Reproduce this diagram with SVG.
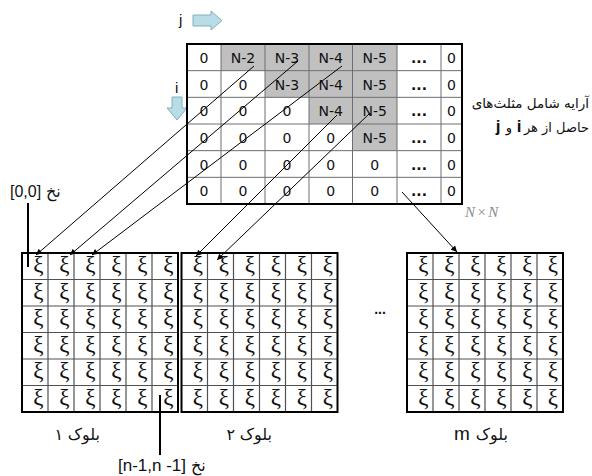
<svg xmlns="http://www.w3.org/2000/svg" width="592" height="476" viewBox="0 0 592 476">
<defs>
<style>
.bg{fill:#ffffff}
.gray{fill:#c0c0c0}
.grid{stroke:#6e6e6e;stroke-width:1;fill:none}
.bgrid{stroke:#505050;stroke-width:1.2;fill:none}
.border{stroke:#000;stroke-width:2;fill:none}
.cell{font-family:"DejaVu Sans",sans-serif;font-size:14px;fill:#111;text-anchor:middle}
.dots{font-weight:bold}
.xi{font-family:"Liberation Serif",serif;font-size:23px;fill:#111}
.fa{font-family:"DejaVu Sans",sans-serif;font-size:16px;fill:#111}
.fs{font-family:"DejaVu Sans",sans-serif;font-size:13.5px;fill:#111}
.fs2{font-family:"DejaVu Sans",sans-serif;font-size:13px;fill:#111}
.lat{font-family:"Liberation Sans",sans-serif;fill:#111}
.ij{font-family:"Liberation Sans",sans-serif;font-size:17px;font-weight:bold;fill:#111}
.conn{stroke:#000;stroke-width:1;fill:none}
.lbl{stroke:#000;stroke-width:2;fill:none}
.barrow{fill:#b8dde6;stroke:#86aebb;stroke-width:1}
</style>
<marker id="ah" viewBox="0 0 10 10" refX="10" refY="5" markerWidth="7" markerHeight="6" markerUnits="userSpaceOnUse" orient="auto">
<path d="M0,0 L10,5 L0,10 z" fill="#000"/>
</marker>
</defs>
<rect width="592" height="476" fill="#fff"/>

<g id="dir-j">
<text class="lat" x="179" y="25" font-size="15">j</text>
<polygon class="barrow" points="193,15 211,15 211,11 222,20.5 211,30 211,26 193,26"/>
</g>
<g id="dir-i">
<text class="lat" x="175" y="93" font-size="15">i</text>
<polygon class="barrow" points="172,97 182,97 182,108 187,108 177,120 167,108 172,108"/>
</g>

<g id="matrix">
<rect class="bg" x="187" y="44" width="275" height="160"/>
<rect class="gray" x="221" y="44" width="176" height="26.67"/>
<rect class="gray" x="265" y="70.67" width="132" height="26.67"/>
<rect class="gray" x="309" y="97.33" width="88" height="26.67"/>
<rect class="gray" x="352.5" y="124" width="44.5" height="26.67"/>
<path class="grid" d="M221,44V204M265,44V204M309,44V204M352.5,44V204M397,44V204M441,44V204M187,70.67H462M187,97.33H462M187,124H462M187,150.67H462M187,177.33H462"/>
<rect class="border" x="187" y="44" width="275" height="160"/>
<g class="cell">
<text x="204" y="63">0</text><text x="243" y="63">N-2</text><text x="287" y="63">N-3</text><text x="330.75" y="63">N-4</text><text x="374.75" y="63">N-5</text><text class="dots" x="419" y="63">...</text><text x="451.5" y="63">0</text>
<text x="204" y="89.67">0</text><text x="243" y="89.67">0</text><text x="287" y="89.67">N-3</text><text x="330.75" y="89.67">N-4</text><text x="374.75" y="89.67">N-5</text><text class="dots" x="419" y="89.67">...</text><text x="451.5" y="89.67">0</text>
<text x="204" y="116.33">0</text><text x="243" y="116.33">0</text><text x="287" y="116.33">0</text><text x="330.75" y="116.33">N-4</text><text x="374.75" y="116.33">N-5</text><text class="dots" x="419" y="116.33">...</text><text x="451.5" y="116.33">0</text>
<text x="204" y="143">0</text><text x="243" y="143">0</text><text x="287" y="143">0</text><text x="330.75" y="143">0</text><text x="374.75" y="143">N-5</text><text class="dots" x="419" y="143">...</text><text x="451.5" y="143">0</text>
<text x="204" y="169.67">0</text><text x="243" y="169.67">0</text><text x="287" y="169.67">0</text><text x="330.75" y="169.67">0</text><text x="374.75" y="169.67">0</text><text class="dots" x="419" y="169.67">...</text><text x="451.5" y="169.67">0</text>
<text x="204" y="196.33">0</text><text x="243" y="196.33">0</text><text x="287" y="196.33">0</text><text x="330.75" y="196.33">0</text><text x="374.75" y="196.33">0</text><text class="dots" x="419" y="196.33">...</text><text x="451.5" y="196.33">0</text>
</g>
</g>

<g id="block1">
<rect class="bg" x="22" y="253" width="156" height="159"/>
<path class="bgrid" d="M48,253V412M74,253V412M100,253V412M126,253V412M152,253V412M22,279.5H178M22,306H178M22,332.5H178M22,359H178M22,385.5H178"/>
<rect class="border" x="22" y="253" width="156" height="159"/>
<g class="xi" text-anchor="middle">
<text x="38.5 64.5 90.5 116.5 142.5 168.5" y="272">ξξξξξξ</text>
<text x="38.5 64.5 90.5 116.5 142.5 168.5" y="298.5">ξξξξξξ</text>
<text x="38.5 64.5 90.5 116.5 142.5 168.5" y="325">ξξξξξξ</text>
<text x="38.5 64.5 90.5 116.5 142.5 168.5" y="351.5">ξξξξξξ</text>
<text x="38.5 64.5 90.5 116.5 142.5 168.5" y="378">ξξξξξξ</text>
<text x="38.5 64.5 90.5 116.5 142.5 168.5" y="404.5">ξξξξξξ</text>
</g>
<text class="fa" x="100" y="440" text-anchor="end">بلوک</text>
<text class="fa" x="63" y="440" text-anchor="end">۱</text>
</g>

<g id="block2">
<rect class="bg" x="181.5" y="253" width="156" height="159"/>
<path class="bgrid" d="M207.5,253V412M233.5,253V412M259.5,253V412M285.5,253V412M311.5,253V412M181.5,279.5H337.5M181.5,306H337.5M181.5,332.5H337.5M181.5,359H337.5M181.5,385.5H337.5"/>
<rect class="border" x="181.5" y="253" width="156" height="159"/>
<g class="xi" text-anchor="middle">
<text x="198 224 250 276 302 328" y="272">ξξξξξξ</text>
<text x="198 224 250 276 302 328" y="298.5">ξξξξξξ</text>
<text x="198 224 250 276 302 328" y="325">ξξξξξξ</text>
<text x="198 224 250 276 302 328" y="351.5">ξξξξξξ</text>
<text x="198 224 250 276 302 328" y="378">ξξξξξξ</text>
<text x="198 224 250 276 302 328" y="404.5">ξξξξξξ</text>
</g>
<text class="fa" x="272" y="440" text-anchor="end">بلوک</text>
<text class="fa" x="235" y="440" text-anchor="end">۲</text>
</g>

<text id="ellipsis" class="lat" x="380" y="314" font-size="14" font-weight="bold" text-anchor="middle">...</text>

<g id="blockm">
<rect class="bg" x="407" y="253" width="156" height="159"/>
<path class="bgrid" d="M433,253V412M459,253V412M485,253V412M511,253V412M537,253V412M407,279.5H563M407,306H563M407,332.5H563M407,359H563M407,385.5H563"/>
<rect class="border" x="407" y="253" width="156" height="159"/>
<g class="xi" text-anchor="middle">
<text x="423.5 449.5 475.5 501.5 527.5 553" y="272">ξξξξξξ</text>
<text x="423.5 449.5 475.5 501.5 527.5 553" y="298.5">ξξξξξξ</text>
<text x="423.5 449.5 475.5 501.5 527.5 553" y="325">ξξξξξξ</text>
<text x="423.5 449.5 475.5 501.5 527.5 553" y="351.5">ξξξξξξ</text>
<text x="423.5 449.5 475.5 501.5 527.5 553" y="378">ξξξξξξ</text>
<text x="423.5 449.5 475.5 501.5 527.5 553" y="404.5">ξξξξξξ</text>
</g>
<text class="lat" x="454" y="440" font-size="19">m</text>
<text class="fa" x="508" y="440" text-anchor="end">بلوک</text>
</g>

<g id="connectors">
<line class="conn" x1="254" y1="66" x2="36" y2="255" marker-end="url(#ah)"/>
<line class="conn" x1="298" y1="61" x2="70" y2="255" marker-end="url(#ah)"/>
<line class="conn" x1="342" y1="66" x2="92" y2="255" marker-end="url(#ah)"/>
<line class="conn" x1="337" y1="115" x2="196" y2="256" marker-end="url(#ah)"/>
<line class="conn" x1="370" y1="113" x2="217" y2="260" marker-end="url(#ah)"/>
<line class="conn" x1="402" y1="192" x2="457" y2="252" marker-end="url(#ah)"/>
<line class="lbl" x1="28" y1="203" x2="28" y2="267"/>
<line class="lbl" x1="160" y1="395" x2="160" y2="455"/>
</g>

<g id="label-00">
<text class="lat" x="10" y="197" font-size="16">[0,0]</text>
<text class="fa" x="46" y="197">نخ</text>
</g>
<g id="label-nn">
<text class="lat" x="118" y="471" font-size="17">[n-1,n -1]</text>
<text class="fa" x="191" y="471">نخ</text>
</g>
<g id="label-array">
<text class="fs" x="589" y="108" text-anchor="end">آرایه شامل مثلث‌های</text>
<text class="fs2" x="589" y="132" text-anchor="end">حاصل از هر</text>
<text class="ij" x="519" y="132" text-anchor="middle">i</text>
<text class="fs2" x="509" y="132" text-anchor="middle">و</text>
<text class="ij" x="498" y="132" text-anchor="middle">j</text>
</g>
<text id="nxn" x="465" y="217" font-family="Liberation Serif,serif" font-style="italic" font-size="15" fill="#8a8a8a" letter-spacing="1.5">N×N</text>
</svg>
